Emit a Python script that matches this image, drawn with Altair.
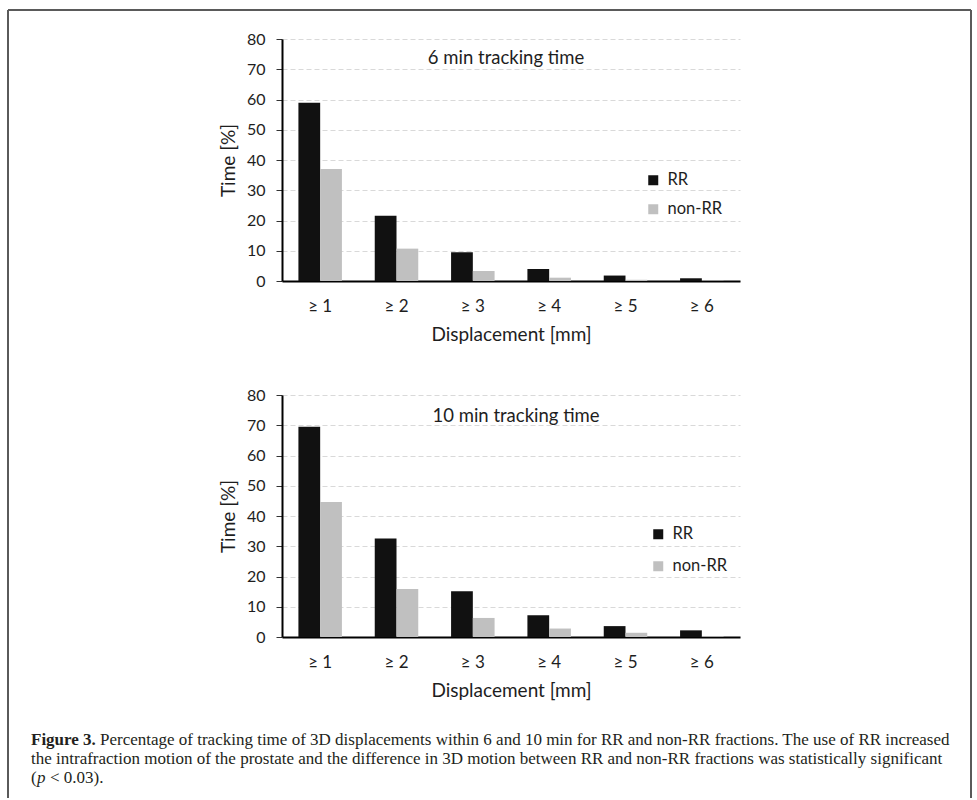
import altair as alt
import pandas as pd

# Displacement thresholds and series (percentage of tracking time)
categories = ["≥ 1", "≥ 2", "≥ 3", "≥ 4", "≥ 5", "≥ 6"]
groups = ["RR", "non-RR"]
rr_6min = [58.9, 21.6, 9.5, 4.0, 1.8, 0.9]
nonrr_6min = [37.0, 10.7, 3.3, 1.1, 0.4, 0.1]
rr_10min = [69.5, 32.6, 15.1, 7.2, 3.6, 2.2]
nonrr_10min = [44.6, 15.9, 6.3, 2.8, 1.4, 0.2]
y_ticks = [0, 10, 20, 30, 40, 50, 60, 70, 80]
bar_colors = ["#111111", "#c0c0c0"]

caption_bold = "Figure 3."
caption_line1 = ("Percentage of tracking time of 3D displacements within 6 and 10 min for RR and "
                 "non-RR fractions. The use of RR increased")
caption_line2 = ("the intrafraction motion of the prostate and the difference in 3D motion between "
                 "RR and non-RR fractions was statistically significant")
caption_line3 = ["(", "p", "< 0.03)."]

FONT = "Lato"
SERIF = "Liberation Serif"
TEXT = "#1e1e1e"
W, H = 458, 242
GAP = 114


def panel(rr, nonrr, title, title_xy, legend_xy, row_pad):
    df = pd.DataFrame({
        "threshold": categories * 2,
        "group": ["RR"] * len(rr) + ["non-RR"] * len(nonrr),
        "value": rr + nonrr,
    })
    bars = alt.Chart(df).mark_bar().encode(
        x=alt.X("threshold:N", sort=categories,
                scale=alt.Scale(paddingInner=0.43, paddingOuter=0.215),
                axis=alt.Axis(title="Displacement [mm]", labelAngle=0, ticks=False,
                              domainColor="black", domainWidth=2, grid=False,
                              labelPadding=17, titlePadding=11)),
        xOffset=alt.XOffset("group:N", sort=groups),
        y=alt.Y("value:Q", scale=alt.Scale(domain=[0, 80], nice=False),
                axis=alt.Axis(values=y_ticks, title="Time [%]", domainColor="black",
                              domainWidth=2, tickColor="#333333", tickSize=6,
                              labelPadding=11, titlePadding=8,
                              gridColor="#d9d9d9", gridDash=[5, 3], gridWidth=1)),
        color=alt.Color("group:N", sort=groups,
                        scale=alt.Scale(domain=groups, range=bar_colors),
                        legend=alt.Legend(title=None, orient="none",
                                          legendX=legend_xy[0], legendY=legend_xy[1],
                                          symbolType="square", symbolSize=100,
                                          symbolStrokeWidth=0, labelOffset=6,
                                          rowPadding=row_pad, padding=0,
                                          labelFont=FONT, labelFontSize=16.5,
                                          labelColor=TEXT)),
    )
    label = alt.Chart(pd.DataFrame({"t": [title]})).mark_text(
        font=FONT, fontSize=18.5, color=TEXT, align="center", baseline="middle"
    ).encode(x=alt.value(title_xy[0]), y=alt.value(title_xy[1]), text="t:N")
    return bars, label


top_bars, top_label = panel(rr_6min, nonrr_6min, "6 min tracking time",
                            (224, 19), (363, 133), 12)
bot_bars, bot_label = panel(rr_10min, nonrr_10min, "10 min tracking time",
                            (234, 21), (368, 131), 15)

# Figure frame (left, top, right) and caption, placed relative to the lower panel
one = pd.DataFrame({"k": [0]})
fx0, fx1, fy0, fy1 = -274, 689, -385, 403
frame_style = dict(color="#5a5a5a", strokeWidth=2)
frame_left = alt.Chart(one).mark_rule(**frame_style).encode(
    x=alt.value(fx0), y=alt.value(fy0), y2=alt.value(fy1))
frame_right = alt.Chart(one).mark_rule(**frame_style).encode(
    x=alt.value(fx1), y=alt.value(fy0), y2=alt.value(fy1))
frame_top = alt.Chart(one).mark_rule(**frame_style).encode(
    x=alt.value(fx0), x2=alt.value(fx1), y=alt.value(fy0))

cx = -251
CAP_SIZE = 17


def cap(text, x, y, weight="normal", style="normal"):
    return alt.Chart(pd.DataFrame({"t": [text]})).mark_text(
        font=SERIF, fontSize=CAP_SIZE, color="#231f20", align="left", baseline="middle",
        fontWeight=weight, fontStyle=style
    ).encode(x=alt.value(x), y=alt.value(y), text="t:N")


caption = [
    cap(caption_bold, cx, 345, weight="bold"),
    cap(caption_line1, cx + 69, 345),
    cap(caption_line2, cx, 364),
    cap(caption_line3[0], cx, 383),
    cap(caption_line3[1], cx + 6, 383, style="italic"),
    cap(caption_line3[2], cx + 19, 383),
]

top = alt.layer(top_bars, top_label).properties(width=W, height=H)
bottom = alt.layer(bot_bars, bot_label, frame_left, frame_right, frame_top,
                   *caption).properties(width=W, height=H)

chart = alt.vconcat(top, bottom, spacing=GAP, bounds="flush").resolve_legend(
    color="independent"
).properties(
    padding={"left": 7, "top": 9, "right": 0, "bottom": 0},
    background="white",
).configure_view(stroke=None).configure_axis(
    labelFont=FONT, titleFont=FONT, labelFontSize=16, titleFontSize=19,
    labelColor=TEXT, titleColor=TEXT, titleFontWeight="normal"
).configure_axisX(labelFontSize=17)

chart.save("out.html", embed_options={"renderer": "svg", "actions": False})
